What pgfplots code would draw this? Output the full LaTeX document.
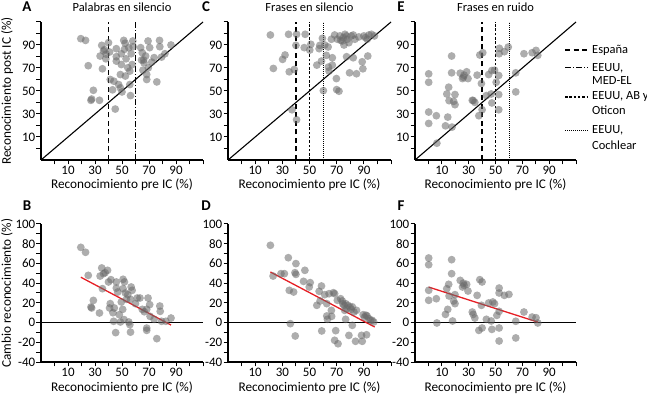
\documentclass[border=0pt]{standalone}
\usepackage{pgfplots}
\pgfplotsset{compat=1.18}
\usepackage{fontspec}
\setmainfont{Carlito}
\definecolor{ptgray}{RGB}{105,105,105}
\definecolor{regred}{RGB}{230,30,36}
\pgfplotsset{
 panel/.style={
  scale only axis, height=138bp,
  xmin=-10, xmax=110,
  axis x line*=bottom, axis y line*=left,
  axis line style={line width=1.6bp},
  tick style={line width=1bp, black},
  tick align=outside,
  major tick length=4.5bp, minor tick length=4.5bp,
  xtick={10,30,50,70,90}, minor xtick={0,20,40,60,80,100,110},
  ticklabel style={font=\fontsize{13}{14}\selectfont},
  /pgf/number format/assume math mode=true,
  xticklabel style={inner sep=1.5bp},
  yticklabel style={inner sep=1bp},
  clip=false,
 },
 toprow/.style={panel, ymin=-10, ymax=110, ytick={10,30,50,70,90}, minor ytick={0,20,40,60,80,100,110}},
 botrow/.style={panel, ymin=-40, ymax=100, ytick={-40,-20,...,100}, minor ytick={-30,-10,...,90}},
 pts/.style={only marks, mark=*, mark size=3.9bp, mark options={draw opacity=0, fill=ptgray, fill opacity=0.55}},
 esp/.style={black, line width=1.2bp, dash pattern=on 5bp off 3.5bp},
 med/.style={black, line width=1bp, dash pattern=on 6bp off 2bp on 1bp off 2bp},
 abo/.style={black, line width=1.3bp, dash pattern=on 2.5bp off 1.8bp},
 coc/.style={black, line width=0.8bp, dash pattern=on 0.8bp off 1.2bp},
 ident/.style={black, line width=1.1bp},
}
\begin{document}
\begin{tikzpicture}
\useasboundingbox (0,0) rectangle (647bp,395bp);
% ---------- A ----------
\begin{axis}[toprow, width=162bp, at={(41bp,235bp)}, anchor=south west]
\addplot[pts] table {
19.5 95.5
23 94
25 72
28.8 50.6
27 41.9
27.5 43
33.3 41.9
35 89.7
35.5 69.3
33.8 80.4
36.3 84.8
37 86
38.3 82
40 92
40.8 83.9
38 78
41.3 60
44 58.5
43 51
45 34.3
45.8 86.8
45.8 79.8
45.8 76
47.5 55.6
48.8 64.3
49.5 73
49.5 82.4
48.8 52.7
50 49.2
51.3 94
52.3 91.5
51.8 86.2
53 78
54.3 70.2
55.8 55.6
56.3 46
55 87.7
56.8 82.4
58 93.5
58.3 88.5
57.5 73
55.8 67.3
52.5 63
63.8 87.7
64.5 76.9
66.3 74.5
65.5 68.1
67.5 80.4
68.3 64.3
68.3 60
69.3 93.5
70.5 87.7
69.5 70.2
72 75.1
73.8 79
75.8 57.9
77.8 94
78 88.5
79.3 79.5
81.8 82.4
86.3 90
65 83.3
66 77
};
\addplot[ident] coordinates {(-10,-10) (110,110)};
\addplot[esp] coordinates {(40,-10) (40,110)};
\addplot[med] coordinates {(60,-10) (60,110)};
\end{axis}
% ---------- C ----------
\begin{axis}[toprow, width=163bp, at={(228bp,235bp)}, anchor=south west]
\addplot[pts] table {
21.2 98.7
23.4 69.6
30.2 77.5
32 81.3
34.6 99.3
35.1 66.7
37.1 33.7
38.8 68.7
40.5 99.3
40 89.7
40.5 25
46.1 87.7
46.8 99.3
50.2 85.6
51 90.6
57.1 86.8
57.6 89.7
58.8 76
59.5 95.8
55.4 72.5
60.2 50.3
61.2 90
62.4 81
63.7 88.3
63.9 70.8
64.4 67.3
66.8 78.9
66.8 72.5
66.1 95
68.5 98.7
69.8 60.8
70 51.2
71.7 49.8
70.5 95
72.4 97.9
74.1 93.5
75.4 90
76.1 99.3
77.3 79.8
77.3 97.9
79 92
79.5 65.8
80.7 97.9
82.2 98.7
82.2 78.9
83.4 95
84.6 65
86.3 97
88.8 75.4
89.3 69.3
90 97.9
91.2 96.4
92.9 80.4
93.7 98.7
95.6 99.3
97.8 97.9
92.5 95
77.8 95
75 96.4
73 94
};
\addplot[ident] coordinates {(-10,-10) (110,110)};
\addplot[esp] coordinates {(40,-10) (40,110)};
\addplot[abo] coordinates {(50,-10) (50,110)};
\addplot[coc] coordinates {(60,-10) (60,110)};
\end{axis}
% ---------- E ----------
\begin{axis}[toprow, width=161bp, at={(415bp,235bp)}, anchor=south west]
\addplot[pts] table {
0.2 64.9
0.2 57.6
0.2 31.7
0.2 21.8
5.9 28.5
6.3 4.6
12.7 19.7
14.4 27.3
13.7 47.4
15.1 53.3
15.4 41.6
17.3 80.4
17.3 65.8
17.6 18.6
18.8 41
19.8 46.9
19.8 38.1
23.7 65.5
25.4 60.8
26.6 63.8
28.5 66.7
29.5 60.8
32.7 41.9
34.6 40.1
36.3 63.8
37.6 28.5
38.3 81.3
40.5 83.3
39.5 56.5
40 33.7
43.2 46
44.9 64.3
46.8 47.4
47.3 39.6
47.3 67.8
49.3 68.1
50.5 57.6
52.4 63.5
52.4 46.9
52.4 33.7
52.9 87.1
52.7 82.4
56.6 84.2
59.5 88.2
65.1 65.8
65.1 49.2
71.2 82.4
77.3 83.3
80.2 85.3
81.5 81
26 62
33.4 41.7
};
\addplot[ident] coordinates {(-10,-10) (110,110)};
\addplot[esp] coordinates {(40,-10) (40,110)};
\addplot[abo] coordinates {(50,-10) (50,110)};
\addplot[coc] coordinates {(60,-10) (60,110)};
\end{axis}
% ---------- B ----------
\begin{axis}[botrow, width=162bp, at={(41bp,33bp)}, anchor=south west]
\addplot[pts] table {
19.5 76.3
23 71.3
25 47.9
28.8 22.5
27 15.8
27.5 14.8
33.3 9.7
35 55.4
35.5 34.4
33.8 47.2
36.3 49.6
37.5 50.6
39.3 53
40 41.2
41.8 43.5
41.3 19.2
40.8 14.8
43.3 10
43.8 1.3
45.3 -10.2
45.8 41.2
45.8 35
46.8 31
44.3 14.8
48 8
48.8 0.6
49.5 20.9
50.5 13.4
50.8 43.9
51.8 41.2
50.8 34.4
52.5 30
53.3 23.6
54.3 28.3
55 0.6
55.8 -2.1
56.3 -9.7
56.8 36.1
57.5 32.7
56.3 23.6
60 19.2
61.3 24.9
63.3 24.9
65 13.4
68.3 13.4
69.3 24.9
70.5 18.2
70.8 6.3
68.3 -5.6
68.3 -7.9
73.8 3.3
75.8 -16.3
78 16.8
78.3 11.4
79.3 1.3
82.5 1.3
86.3 4.6
66.5 11
51.5 3
};
\addplot[ident] coordinates {(-10,0) (110,0)};
\addplot[regred, line width=1.3bp] coordinates {(19.5,46) (86.3,-2.5)};
\end{axis}
% ---------- D ----------
\begin{axis}[botrow, width=163bp, at={(228bp,33bp)}, anchor=south west]
\addplot[pts] table {
21.2 78.4
23.2 47.2
29 49.6
31.5 49.6
34.4 65.8
35.1 32.7
35.9 -1.1
38.3 31
39.3 50.6
40 59.8
39.5 -13.6
40 48.9
46.6 53
45.6 41.8
49.8 36.1
50.5 40.5
55.4 17.5
57.1 31.7
58.8 37.1
57.8 21.9
59 -8.5
61.2 28.3
62.7 19.2
62.7 6.7
63.2 3.3
64.4 29.3
66.1 12.4
66.3 6.3
67.6 30.3
68.5 29.3
69.3 -8.2
68.5 -18
71 -21.5
70.5 22.6
72.9 24.2
74.1 21.9
75.4 17.5
75.9 12.4
76.6 3.3
76.6 19.2
78.3 17.5
79 -13
79.8 15.8
80.7 13.4
81.5 -2.8
82.7 10.7
83.9 -19
84.6 12.4
88.3 -13
88.8 -19
89.5 8
90.5 5.6
92 -12.4
92.4 6.7
93.7 3.9
94.9 2.3
96.1 2.3
97.3 0.6
74.5 19
77.5 14
81.5 16
91.5 7.5
};
\addplot[ident] coordinates {(-10,0) (110,0)};
\addplot[regred, line width=1.3bp] coordinates {(21.2,51.3) (98,-4.5)};
\end{axis}
% ---------- F ----------
\begin{axis}[botrow, width=161bp, at={(415bp,33bp)}, anchor=south west]
\addplot[pts] table {
0.2 65.5
0.2 58.7
0.2 32.7
0.2 22.6
5.9 24.2
6.3 -0.4
12.7 8.3
14.4 13.4
13.7 34.4
15.1 38.8
15.4 27
17.3 63.8
17.3 49.6
18 1.6
18.8 21.9
19.8 28.3
19.8 19.2
23.7 42.8
25.4 36.1
26.6 37.8
28.5 38.8
29.5 32
32.7 10.7
33.4 8.3
34.6 4.6
36.3 27.6
37.6 -7.9
38.3 43.5
40 41.2
39.5 17.5
40 -5.5
43.2 3.3
44.9 19.9
46.8 1.6
47.3 -6.9
48 20.9
49.3 19.2
51 7.3
52.7 35
52.7 30
52.7 11.4
52.7 -5.5
52.7 -18.7
56.6 27.6
60 28.6
65.1 1.3
65.1 -15.6
71.2 10.7
77.3 5.6
80.2 4.9
81.5 -0.4
26 40
};
\addplot[ident] coordinates {(-10,0) (110,0)};
\addplot[regred, line width=1.3bp] coordinates {(0.2,36) (81.5,0.5)};
\end{axis}
% ---------- text ----------
\tikzset{lab/.style={font=\fontsize{13.3}{15}\selectfont, inner sep=0pt}, ttl/.style={font=\fontsize{12.5}{15}\selectfont, inner sep=0pt}, let/.style={font=\fontsize{15}{17}\selectfont\bfseries, inner sep=0pt}}
\node[let] at (27bp,388bp) {A};
\node[let] at (27bp,189bp) {B};
\node[let] at (206bp,388bp) {C};
\node[let] at (206bp,189bp) {D};
\node[let] at (401bp,388bp) {E};
\node[let] at (401bp,189bp) {F};
\node[ttl] at (122bp,388bp) {Palabras en silencio};
\node[ttl] at (309.5bp,388bp) {Frases en silencio};
\node[ttl] at (495.5bp,388bp) {Frases en ruido};
\node[lab] at (122bp,210bp) {Reconocimiento pre IC (\%)};
\node[lab] at (309.5bp,210bp) {Reconocimiento pre IC (\%)};
\node[lab] at (495.5bp,210bp) {Reconocimiento pre IC (\%)};
\node[lab] at (122bp,7bp) {Reconocimiento pre IC (\%)};
\node[lab] at (309.5bp,7bp) {Reconocimiento pre IC (\%)};
\node[lab] at (495.5bp,7bp) {Reconocimiento pre IC (\%)};
\node[lab, rotate=90] at (7bp,304bp) {Reconocimiento post IC (\%)};
\node[lab, rotate=90] at (7bp,102bp) {Cambio reconocimiento (\%)};
% legend
\draw[black, line width=1.2bp, dash pattern=on 5bp off 3.5bp] (565bp,345bp) -- (588bp,345bp);
\node[ttl, anchor=west] at (592bp,345bp) {España};
\draw[black, line width=1bp, dash pattern=on 6bp off 2bp on 1bp off 2bp] (565bp,327bp) -- (588bp,327bp);
\node[ttl, anchor=west] at (592bp,327bp) {EEUU,};
\node[ttl, anchor=west] at (592bp,314bp) {MED-EL};
\draw[black, line width=1.3bp, dash pattern=on 2.5bp off 1.8bp] (565bp,298bp) -- (588bp,298bp);
\node[ttl, anchor=west] at (592bp,298bp) {EEUU, AB y};
\node[ttl, anchor=west] at (592bp,285bp) {Oticon};
\draw[black, line width=0.8bp, dash pattern=on 0.8bp off 1.2bp] (565bp,265bp) -- (588bp,265bp);
\node[ttl, anchor=west] at (592bp,265bp) {EEUU,};
\node[ttl, anchor=west] at (592bp,250bp) {Cochlear};
\end{tikzpicture}
\end{document}
